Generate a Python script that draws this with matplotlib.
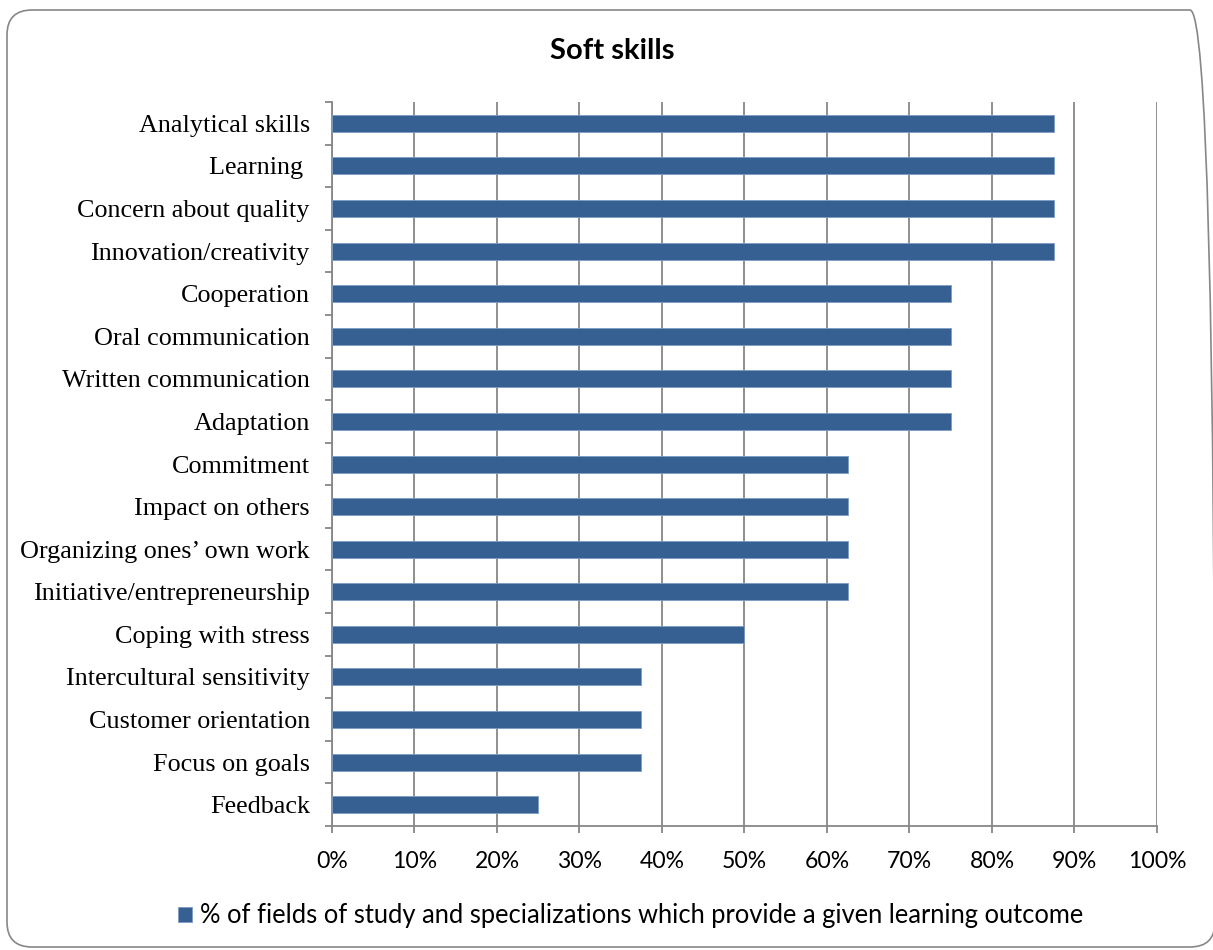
import matplotlib
matplotlib.use('Agg')
import matplotlib.pyplot as plt
from matplotlib.patches import FancyBboxPatch, Patch
from matplotlib.ticker import FixedLocator, PercentFormatter

skills = [
    'Analytical skills', 'Learning ', 'Concern about quality',
    'Innovation/creativity', 'Cooperation', 'Oral communication',
    'Written communication', 'Adaptation', 'Commitment',
    'Impact on others', 'Organizing ones\u2019 own work',
    'Initiative/entrepreneurship', 'Coping with stress',
    'Intercultural sensitivity', 'Customer orientation',
    'Focus on goals', 'Feedback',
]
share = [87.5, 87.5, 87.5, 87.5, 75, 75, 75, 75,
         62.5, 62.5, 62.5, 62.5, 50, 37.5, 37.5, 37.5, 25]
x_ticks = [0, 10, 20, 30, 40, 50, 60, 70, 80, 90, 100]
series_name = '% of fields of study and specializations which provide a given learning outcome'

grey = '#878787'
bar_color = '#376092'
sans = 'Lato'
serif = 'Liberation Serif'

fig = plt.figure(figsize=(12.13, 9.5), dpi=100, facecolor='white')

# rounded chart border (Excel style)
border = FancyBboxPatch((0.07, 0.03), 12.08, 9.37,
                        boxstyle='round,pad=0,rounding_size=0.25',
                        transform=fig.dpi_scale_trans, facecolor='none',
                        edgecolor=grey, linewidth=1.2, zorder=0)
fig.patches.append(border)

ax = fig.add_axes([0.2737, 0.1305, 0.6801, 0.7621])
ax.set_facecolor('none')

pos = list(range(len(skills)))
ax.barh(pos, share, height=0.4, color=bar_color,
        edgecolor='#7d9cc4', linewidth=0.6, zorder=3)

ax.set_xlim(0, 100)
ax.set_ylim(len(skills) - 0.5, -0.5)

ax.xaxis.set_major_locator(FixedLocator(x_ticks))
ax.xaxis.set_major_formatter(PercentFormatter(decimals=0))
ax.grid(axis='x', color=grey, linewidth=1.3, zorder=1)

ax.set_yticks(pos)
ax.set_yticklabels(skills, fontfamily=serif, fontsize=18.8)
ax.set_yticks([p - 0.5 for p in pos] + [len(skills) - 0.5], minor=True)
ax.tick_params(axis='y', which='major', length=0, pad=16)
ax.tick_params(axis='y', which='minor', length=5, width=1.3, color=grey,
               direction='out')
ax.tick_params(axis='x', length=5, width=1.3, color=grey, direction='out',
               pad=13, labelsize=16.6)
for lbl in ax.get_xticklabels():
    lbl.set_fontfamily(sans)

for side in ['top', 'right']:
    ax.spines[side].set_visible(False)
for side in ['left', 'bottom']:
    ax.spines[side].set_color(grey)
    ax.spines[side].set_linewidth(1.3)

fig.text(0.505, 1 - 51 / 950, 'Soft skills', ha='center', va='center',
         fontfamily=sans, fontweight='bold', fontsize=21)

handle = Patch(facecolor=bar_color, edgecolor='#7d9cc4', linewidth=0.6)
fig.legend([handle], [series_name], loc='center',
           bbox_to_anchor=(630.5 / 1213, 1 - 916 / 950), frameon=False,
           prop={'family': sans, 'size': 18.4}, handlelength=0.55,
           handleheight=0.55, handletextpad=0.3)

fig.savefig('out.png', dpi=100)
